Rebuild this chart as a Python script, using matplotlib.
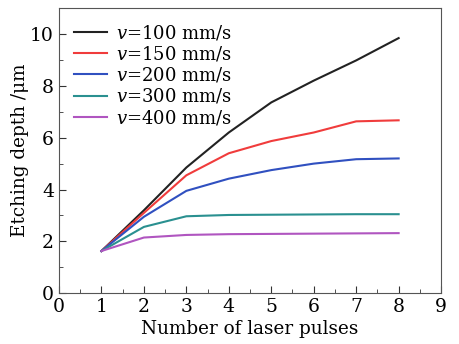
import matplotlib
matplotlib.use("Agg")
import matplotlib.pyplot as plt
from matplotlib.ticker import MultipleLocator

plt.rcParams['font.family'] = ['DejaVu Serif']
plt.rcParams['mathtext.fontset'] = 'dejavuserif'

pulses = [1, 2, 3, 4, 5, 6, 7, 8]
depth_100 = [1.63, 3.2, 4.85, 6.2, 7.36, 8.2, 8.98, 9.84]
depth_150 = [1.63, 3.1, 4.55, 5.4, 5.87, 6.2, 6.63, 6.67]
depth_200 = [1.63, 2.95, 3.95, 4.42, 4.75, 5.0, 5.17, 5.2]
depth_300 = [1.63, 2.56, 2.97, 3.02, 3.03, 3.04, 3.05, 3.05]
depth_400 = [1.63, 2.15, 2.25, 2.28, 2.29, 2.3, 2.31, 2.32]
labels = ["$v$=100 mm/s", "$v$=150 mm/s", "$v$=200 mm/s", "$v$=300 mm/s", "$v$=400 mm/s"]
colors = ["#222222", "#f03c3c", "#3050c0", "#2a9090", "#b055c0"]

fig = plt.figure(figsize=(4.59, 3.44), dpi=100)
ax = fig.add_axes([0.1285, 0.1474, 0.8325, 0.8293])
for d, lab, c in zip([depth_100, depth_150, depth_200, depth_300, depth_400], labels, colors):
    ax.plot(pulses, d, color=c, lw=1.5, label=lab)

ax.set_xlim(0, 9)
ax.set_ylim(0, 11)
ax.xaxis.set_major_locator(MultipleLocator(1))
ax.xaxis.set_minor_locator(MultipleLocator(0.5))
ax.yaxis.set_major_locator(MultipleLocator(2))
ax.yaxis.set_minor_locator(MultipleLocator(1))
ax.tick_params(which='both', direction='in', labelsize=13.5, colors='#333333', labelcolor='black')
ax.tick_params(which='major', length=5)
ax.tick_params(which='minor', length=3)
for s in ax.spines.values():
    s.set_color('#555555')
ax.set_xlabel("Number of laser pulses", fontsize=13.2, labelpad=3)
ax.set_ylabel("Etching depth /μm", fontsize=13.2, labelpad=1)
ax.legend(loc='upper left', frameon=False, fontsize=13, handlelength=1.8,
          labelspacing=0.12, borderaxespad=0.55, handletextpad=0.5, borderpad=0.3)
fig.savefig("out.png", dpi=100)
